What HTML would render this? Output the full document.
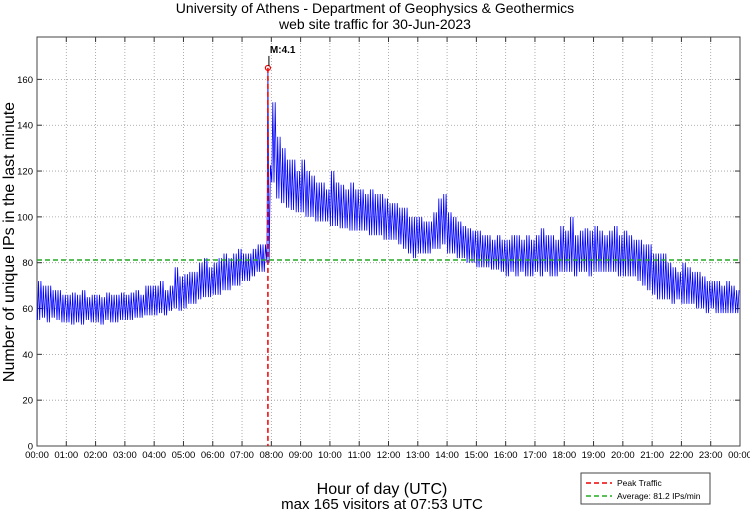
<!DOCTYPE html>
<html><head><meta charset="utf-8"><style>
body{margin:0;background:#fff;}
svg{display:block;font-family:"Liberation Sans",sans-serif;}
</style></head><body>
<svg id="c" width="750" height="511">
<rect x="0" y="0" width="750" height="511" fill="#fff"/>
<text x="375" y="13" text-anchor="middle" font-size="14">University of Athens - Department of Geophysics &amp; Geothermics</text>
<text x="375" y="29" text-anchor="middle" font-size="14">web site traffic for 30-Jun-2023</text>
<g id="grid"></g>
<g id="axes"></g>
<g id="series"></g>
<text transform="translate(14,242) rotate(-90)" text-anchor="middle" font-size="16">Number of unique IPs in the last minute</text>
<text x="382" y="494" text-anchor="middle" font-size="16">Hour of day (UTC)</text>
<text x="382" y="509" text-anchor="middle" font-size="15">max 165 visitors at 07:53 UTC</text>
<g>
<rect x="581" y="473" width="129" height="31" fill="#fff" stroke="#444" stroke-width="1"/>
<line x1="586" y1="483" x2="612" y2="483" stroke="#e00" stroke-width="1.5" stroke-dasharray="5,3"/>
<text x="617" y="486" font-size="8.5">Peak Traffic</text>
<line x1="586" y1="496" x2="612" y2="496" stroke="#2a2" stroke-width="1.5" stroke-dasharray="5,3"/>
<text x="617" y="499" font-size="8.5">Average: 81.2 IPs/min</text>
</g>
</svg>
<script>
const hi=[72,70,70,68,68,66, 66,67,66,68,65,66, 66,65,67,66,66,67, 66,67,68,66,70,70,
70,72,68,70,78,74, 75,76,76,80,82,78, 80,82,84,82,84,86, 84,84,86,88,88,165,
150,135,130,125,125,120, 125,120,118,115,115,112, 120,115,114,112,115,112, 112,110,112,110,110,108,
106,106,104,104,100,100, 100,98,98,102,108,110, 102,100,98,96,95,94, 94,92,92,90,92,90,
90,92,92,90,92,90, 92,95,92,92,90,96, 94,100,92,94,95,94, 96,94,92,94,96,92,
94,92,90,90,88,88, 84,84,84,80,78,76, 80,78,76,76,74,72, 72,72,70,72,70,68];
const lo=[55,56,54,56,55,54, 54,53,54,53,55,54, 54,53,55,54,54,55, 55,55,56,56,57,57,
57,58,57,59,60,59, 60,62,62,64,65,65, 66,66,68,68,70,70, 72,72,74,76,76,80,
115,108,106,104,103,102, 102,100,100,98,98,98, 96,96,95,95,94,94, 94,94,92,92,92,90,
90,90,88,86,84,82, 84,84,84,86,86,88, 84,84,82,82,80,80, 78,78,78,77,77,76,
74,76,74,76,74,74, 76,74,76,74,74,76, 76,76,74,76,76,74, 76,76,76,76,76,74,
74,74,74,72,70,68, 66,64,64,64,62,64, 62,62,62,60,60,58, 60,58,58,58,58,58];
const yTicks=[0,20,40,60,80,100,120,140,160];
const xTickLabels=["00:00","01:00","02:00","03:00","04:00","05:00","06:00","07:00","08:00","09:00","10:00","11:00","12:00","13:00","14:00","15:00","16:00","17:00","18:00","19:00","20:00","21:00","22:00","23:00","00:00"];
const peakMinute=473, peakValue=165, average=81.2;
const L=37,R=740,T=37,B=446,YMAX=178.5;
const X=m=>L+(R-L)*m/1440, Y=v=>B-(B-T)*v/YMAX;
const NS="http://www.w3.org/2000/svg";
function mk(tag,attrs,parent){const e=document.createElementNS(NS,tag);for(const k in attrs)e.setAttribute(k,attrs[k]);parent.appendChild(e);return e;}
const grid=document.getElementById('grid'),axes=document.getElementById('axes'),ser=document.getElementById('series');
xTickLabels.forEach((t,i)=>{const x=X(i*60);
 if(i>0&&i<24){const g=mk('line',{x1:x,y1:T,x2:x,y2:B,stroke:'#999','stroke-width':0.8,'stroke-dasharray':'1,2'},grid);
 
 }
 mk('line',{x1:x,y1:B,x2:x,y2:B-5,stroke:'#333'},axes);
 mk('line',{x1:x,y1:T,x2:x,y2:T+5,stroke:'#333'},axes);
 const tx=mk('text',{x:x,y:458,'text-anchor':'middle','font-size':9.5},axes);tx.textContent=t;
 
 
});
yTicks.forEach(v=>{const y=Y(v);
 if(v>0){const g=mk('line',{x1:L,y1:y,x2:R,y2:y,stroke:'#999','stroke-width':0.8,'stroke-dasharray':'1,2'},grid);
 
 }
 mk('line',{x1:L,y1:y,x2:L+5,y2:y,stroke:'#333'},axes);
 mk('line',{x1:R,y1:y,x2:R-5,y2:y,stroke:'#333'},axes);
 const tx=mk('text',{x:L-4,y:y+3.5,'text-anchor':'end','font-size':9.5},axes);tx.textContent=v;
 
 
});
const fr=mk('rect',{x:L,y:T,width:R-L,height:B-T,fill:'none',stroke:'#444','stroke-width':1},axes);


let pts=[];
for(let i=0;i<hi.length;i++){
 // each 10-minute window: alternate between its observed max and min
 const seq=[[i*10+1,lo[i]],[i*10+3,hi[i]],[i*10+5.5,lo[i]],[i*10+8,hi[i]]];
 if(i===47) seq[3]=[i*10+8,(hi[i]+lo[i])/2];
 seq.forEach(p=>pts.push(X(p[0]).toFixed(1)+','+Y(p[1]).toFixed(1)));
}
const ln=mk('polyline',{points:pts.join(' '),fill:'none',stroke:'#00f','stroke-width':0.8},ser);


const av=mk('line',{x1:L,y1:Y(average),x2:R,y2:Y(average),stroke:'#2a2','stroke-width':1.5,'stroke-dasharray':'5,3'},ser);


const pk=mk('line',{x1:X(peakMinute),y1:Y(peakValue),x2:X(peakMinute),y2:B,stroke:'#e00','stroke-width':1.5,'stroke-dasharray':'5,3'},ser);


const mc=mk('circle',{cx:X(peakMinute),cy:Y(peakValue),r:2.5,fill:'none',stroke:'#e00','stroke-width':1.2},ser);


const ar=mk('line',{x1:X(peakMinute)+1,y1:Y(peakValue)-12,x2:X(peakMinute)+1,y2:Y(peakValue)-2,stroke:'#000','stroke-width':1},ser);


const ml=mk('text',{x:X(peakMinute)+2,y:Y(peakValue)-15,'font-size':10,'font-weight':'bold'},ser);ml.textContent='M:4.1';


</script>
</body></html>
